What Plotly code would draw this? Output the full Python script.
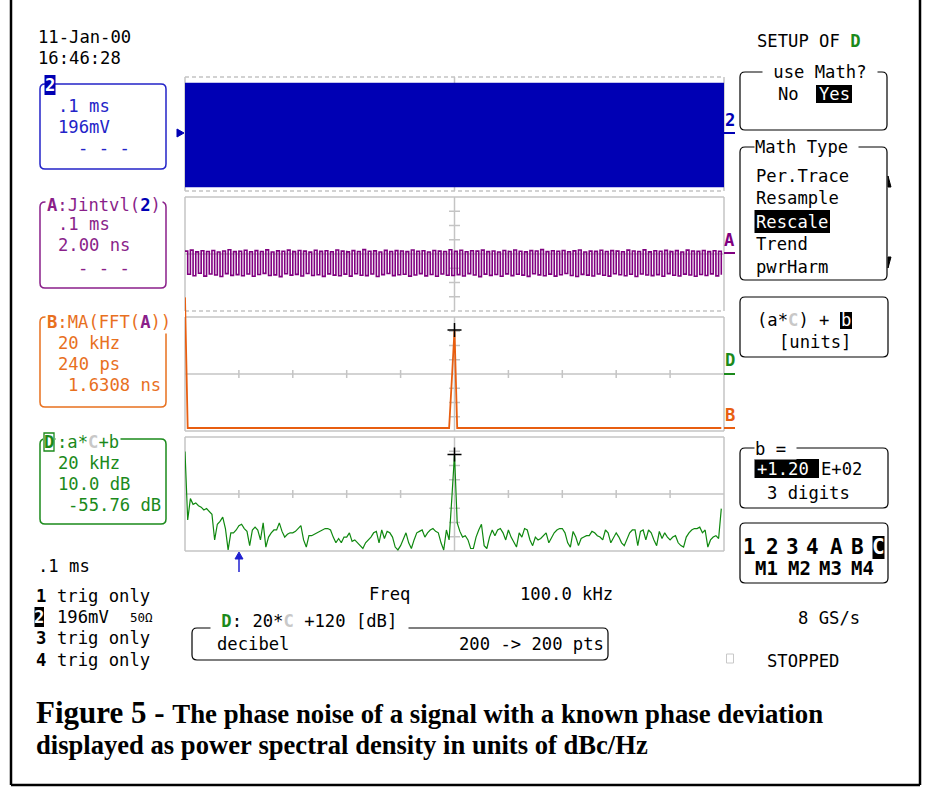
import re
import plotly.graph_objects as go

W, H = 925, 790
MONO = "DejaVu Sans Mono"
SERIF = "Liberation Serif"
FS = 17.2

# ------------------------------------------------------------------ data
# Channel 2 (196 mV/div) : envelope of the dense carrier, 0.1 ms/div
ch2_time_ms = [0.0, 1.0]
ch2_max_mv = [701, 701]
ch2_min_mv = [-729, -729]

# Trace A : Jintvl(2) jitter track (ns), 2 samples per modulation cycle
a_time_ms = [k * 0.005 for k in range(200)]
a_jitter_ns = [
    0.40, -2.85, 0.55, -3.05, 0.30, -2.70, 0.45, -3.10, 0.35, -2.80, 0.50, -2.95, 0.28, -3.15, 0.42, -2.75, 0.60, -3.00, 0.33, -2.90,
    0.38, -3.05, 0.52, -2.80, 0.31, -3.12, 0.47, -2.88, 0.36, -2.72, 0.58, -3.02, 0.29, -2.93, 0.44, -3.18, 0.39, -2.78, 0.55, -2.97,
    0.34, -2.86, 0.49, -3.08, 0.41, -2.74, 0.27, -3.01, 0.53, -2.91, 0.37, -3.14, 0.46, -2.79, 0.32, -2.96, 0.57, -3.06, 0.40, -2.83,
    0.30, -3.10, 0.48, -2.77, 0.35, -2.99, 0.62, -3.04, 0.39, -2.81, 0.44, -3.16, 0.28, -2.89, 0.51, -2.73, 0.36, -3.03, 0.47, -2.92,
    0.42, -2.84, 0.33, -3.11, 0.56, -2.95, 0.38, -2.76, 0.45, -3.07, 0.29, -2.87, 0.50, -3.13, 0.41, -2.80, 0.35, -2.98, 0.59, -3.02,
    0.37, -2.90, 0.52, -3.09, 0.31, -2.75, 0.46, -2.94, 0.40, -3.17, 0.55, -2.82, 0.33, -3.00, 0.43, -2.88, 0.28, -3.12, 0.49, -2.79,
    0.36, -3.04, 0.57, -2.85, 0.39, -2.97, 0.30, -3.14, 0.48, -2.78, 0.42, -2.93, 0.61, -3.06, 0.34, -2.83, 0.45, -3.10, 0.38, -2.91,
    0.50, -2.74, 0.32, -3.02, 0.44, -3.15, 0.56, -2.86, 0.29, -2.96, 0.41, -3.08, 0.37, -2.81, 0.53, -2.99, 0.35, -3.11, 0.47, -2.77,
    0.40, -2.92, 0.31, -3.05, 0.54, -2.84, 0.43, -3.16, 0.36, -2.80, 0.58, -2.95, 0.30, -3.03, 0.46, -2.89, 0.39, -3.12, 0.51, -2.76,
    0.34, -2.98, 0.47, -3.09, 0.28, -2.82, 0.55, -2.94, 0.42, -3.13, 0.37, -2.87, 0.49, -3.01, 0.33, -2.79, 0.45, -3.07, 0.38, -2.90,
]

# FFT bins, 1 kHz per point (200 -> 200 pts, centre 100 kHz)
freq_khz = list(range(200))

# Trace B : MA(FFT(A)) in ps
b_psd_ps = [
    2200, 0, 0, 0, 0, 0, 0, 0, 0, 0, 0, 0, 0, 0, 0, 0, 0, 0, 0, 0,
    0, 0, 0, 0, 0, 0, 0, 0, 0, 0, 0, 0, 0, 0, 0, 0, 0, 0, 0, 0,
    0, 0, 0, 0, 0, 0, 0, 0, 0, 0, 0, 0, 0, 0, 0, 0, 0, 0, 0, 0,
    0, 0, 0, 0, 0, 0, 0, 0, 0, 0, 0, 0, 0, 0, 0, 0, 0, 0, 0, 0,
    0, 0, 0, 0, 0, 0, 0, 0, 0, 0, 0, 0, 0, 0, 0, 0, 0, 0, 0, 808,
    1650, 0, 0, 0, 0, 0, 0, 0, 0, 0, 0, 0, 0, 0, 0, 0, 0, 0, 0, 0,
    0, 0, 0, 0, 0, 0, 0, 0, 0, 0, 0, 0, 0, 0, 0, 0, 0, 0, 0, 0,
    0, 0, 0, 0, 0, 0, 0, 0, 0, 0, 0, 0, 0, 0, 0, 0, 0, 0, 0, 0,
    0, 0, 0, 0, 0, 0, 0, 0, 0, 0, 0, 0, 0, 0, 0, 0, 0, 0, 0, 0,
    0, 0, 0, 0, 0, 0, 0, 0, 0, 0, 0, 0, 0, 0, 0, 0, 0, 0, 0, 0,
]

# Trace D : 20*C + 120 [dB]  (phase-noise PSD)
d_db = [
    -26, -74, -59, -63, -62, -64, -65, -67, -66, -68,
    -70, -88, -77, -75, -72, -80, -95, -83, -83, -81,
    -78, -77, -80, -82, -92, -81, -79, -81, -88, -76,
    -93, -86, -83, -81, -81, -76, -82, -86, -84, -83,
    -83, -82, -80, -78, -88, -93, -85, -85, -84, -83,
    -82, -81, -80, -80, -81, -86, -90, -87, -90, -86,
    -86, -83, -89, -88, -90, -92, -94, -90, -88, -86,
    -83, -82, -90, -81, -87, -82, -83, -86, -93, -95,
    -92, -87, -83, -90, -94, -88, -83, -82, -81, -86,
    -83, -81, -80, -82, -83, -90, -95, -81, -88, -59,
    -28, -76, -82, -86, -85, -88, -94, -94, -86, -81,
    -77, -92, -94, -86, -81, -85, -81, -80, -83, -88,
    -81, -86, -90, -93, -83, -86, -80, -81, -88, -92,
    -86, -88, -87, -85, -83, -90, -86, -83, -81, -80,
    -80, -83, -90, -93, -82, -86, -92, -87, -86, -85,
    -85, -82, -83, -85, -86, -88, -81, -83, -90, -86,
    -83, -86, -90, -92, -88, -83, -81, -81, -92, -82,
    -81, -88, -81, -83, -88, -92, -82, -87, -83, -86,
    -88, -86, -85, -90, -92, -93, -86, -83, -81, -80,
    -80, -79, -83, -81, -93, -88, -86, -85, -87, -66,
]

d_offset_db, d_scale_db = -55.76, 10.0
b_scale_ps = 240
ch2_scale_mv = 196
a_scale_ns = 2.0
peak_bin = 100

# ------------------------------------------------------------------ colours
BLUE_T = "#2323c8"
BLUE_F = "#0000b4"
PURPLE = "#8a1f8a"
PURPLE_TR = "#800080"
ORANGE = "#e8701e"
ORANGE_TR = "#e85e10"
GREEN = "#1b8a1b"
GREEN_TR = "#0f880f"
GRID = "#c4c4c4"
CGREY = "#c8c8c8"

shapes, anns = [], []


def X(px):
    return px / W


def Y(py):
    return 1 - py / H


def nb(s):
    parts = re.split(r"(<[^>]*>)", s)
    return "".join(p if p.startswith("<") else p.replace(" ", "\u00a0") for p in parts)


def T(px, py, s, color="#000000", size=FS, bold=False, anchor="left", bg=None, family=MONO, pad=0):
    if bold:
        s = "<b>" + s + "</b>"
    anns.append(dict(xref="paper", yref="paper", x=X(px), y=Y(py), text=nb(s), showarrow=False,
                     xanchor=anchor, yanchor="middle", borderpad=pad,
                     font=dict(family=family, size=size, color=color),
                     bgcolor=bg if bg else "rgba(0,0,0,0)"))


def L(x0, y0, x1, y1, color=GRID, width=1.5, dash=None, layer="below"):
    d = dict(type="line", xref="paper", yref="paper", x0=X(x0), y0=Y(y0), x1=X(x1), y1=Y(y1),
             line=dict(color=color, width=width), layer=layer)
    if dash:
        d["line"]["dash"] = dash
    shapes.append(d)


def R(x0, y0, x1, y1, fill=None, color=None, width=1.2):
    shapes.append(dict(type="rect", xref="paper", yref="paper", x0=X(x0), y0=Y(y0), x1=X(x1), y1=Y(y1),
                       fillcolor=fill if fill else "rgba(0,0,0,0)",
                       line=dict(color=color if color else "rgba(0,0,0,0)", width=width if color else 0),
                       layer="above"))


def RR(x0, y0, x1, y1, color, r=5, width=1.5):
    def p(x, y):
        return f"{X(x):.5f},{Y(y):.5f}"
    path = (f"M {p(x0 + r, y0)} L {p(x1 - r, y0)} Q {p(x1, y0)} {p(x1, y0 + r)} "
            f"L {p(x1, y1 - r)} Q {p(x1, y1)} {p(x1 - r, y1)} L {p(x0 + r, y1)} "
            f"Q {p(x0, y1)} {p(x0, y1 - r)} L {p(x0, y0 + r)} Q {p(x0, y0)} {p(x0 + r, y0)} Z")
    shapes.append(dict(type="path", xref="paper", yref="paper", path=path,
                       line=dict(color=color, width=width), layer="above"))


def TRI(pts, color):
    path = "M " + " L ".join(f"{X(a):.5f},{Y(b):.5f}" for a, b in pts) + " Z"
    shapes.append(dict(type="path", xref="paper", yref="paper", path=path, fillcolor=color,
                       line=dict(color=color, width=1), layer="above"))


# ------------------------------------------------------------------ grid panels
XL, XR = 185, 724
XC = (XL + XR) / 2
panels = [(77, 191), (197, 311), (317, 431), (437, 551)]
DIVX = (XR - XL) / 10
DIVY = 114 / 8
for idx, (top, bot) in enumerate(panels):
    mid = (top + bot) / 2
    L(XL, top, XR, top, dash="4px,3px" if idx == 0 else None)
    L(XL, bot, XR, bot, dash="4px,3px" if idx in (0, 1) else None)
    L(XL, top, XL, bot)
    L(XR, top, XR, bot)
    L(XC, top, XC, bot)
    L(XL, mid, XR, mid)
    for m in (-3, -2, -1, 1, 2, 3):
        L(XC - 5.5, mid + m * DIVY, XC + 5.5, mid + m * DIVY)
    for k in range(1, 10):
        if k != 5:
            L(XL + k * DIVX, mid - 4, XL + k * DIVX, mid + 4)

# ------------------------------------------------------------------ outer frame
L(11, 0, 11, 785, color="#000000", width=2.5, layer="above")
L(920, 0, 920, 785, color="#000000", width=2.5, layer="above")
L(11, 785, 920, 785, color="#000000", width=2.5, layer="above")

# ------------------------------------------------------------------ left column
T(37, 37, "11-Jan-00")
T(37, 58, "16:46:28")

# channel 2 box
RR(40, 84, 166, 169, BLUE_T)
R(44.5, 75, 55.5, 95, fill=BLUE_F)
T(50, 85, "2", color="#ffffff", bold=True, anchor="center")
T(57, 106, ".1 ms", color=BLUE_T)
T(57, 127, "196mV", color=BLUE_T)
T(77, 148, "- - -", color=BLUE_T)

# A box
RR(40, 202, 166, 288, PURPLE)
T(45, 205, f"<b>A</b>:Jintvl(<span style='color:{BLUE_F}'><b>2</b></span>)", color=PURPLE, bg="#ffffff", pad=1)
T(57, 224, ".1 ms", color=PURPLE)
T(57, 245, "2.00 ns", color=PURPLE)
T(77, 268, "- - -", color=PURPLE)

# B box
RR(40, 317, 166, 407, ORANGE)
T(45, 322, f"<b>B</b>:MA(FFT(<span style='color:{PURPLE}'><b>A</b></span>))", color=ORANGE, bg="#ffffff", pad=1)
T(57, 343, "20 kHz", color=ORANGE)
T(57, 364, "240 ps", color=ORANGE)
T(67, 385, "1.6308 ns", color=ORANGE)

# D box
RR(40, 439, 166, 524, GREEN)
R(43, 433, 55, 451, fill="#ffffff")
R(44, 433, 54, 451, color=GREEN, width=1.3)
T(49, 442, "D", color=GREEN, bold=True, anchor="center")
T(55, 442, f":a*<span style='color:{CGREY}'><b>C</b></span>+b", color=GREEN, bg="#ffffff", pad=1)
T(57, 463, "20 kHz", color=GREEN)
T(57, 484, "10.0 dB", color=GREEN)
T(67, 505, "-55.76 dB", color=GREEN)

T(37, 566, ".1 ms")
T(35, 596, "1", bold=True)
T(56, 596, "trig only")
R(34.5, 607, 44, 627, fill="#000000")
T(39.3, 617, "2", color="#ffffff", bold=True, anchor="center")
T(56, 617, "196mV")
T(129, 617, "50Ω", size=12.5)
T(35, 638, "3", bold=True)
T(56, 638, "trig only")
T(35, 660, "4", bold=True)
T(56, 660, "trig only")

# ------------------------------------------------------------------ right column
T(756, 41, f"SETUP OF <span style='color:{GREEN}'><b>D</b></span>")

RR(740, 72, 887, 130, "#000000", width=1.2)
T(762, 72, " use Math? ", bg="#ffffff")
T(777, 94, "No")
R(816, 85, 852, 103, fill="#000000")
T(818, 94, "Yes", color="#ffffff")

RR(740, 147, 887, 280, "#000000", width=1.2)
T(754, 147, "Math Type ", bg="#ffffff")
T(755, 176, "Per.Trace")
T(755, 198, "Resample")
R(754.5, 210, 830, 233, fill="#000000")
T(755, 222, "Rescale", color="#ffffff")
T(755, 244, "Trend")
T(755, 267, "pwrHarm")
TRI([(888, 187), (888, 176), (891, 187)], "#000000")
TRI([(888, 257), (888, 268), (891, 257)], "#000000")

RR(740, 297, 888, 357, "#000000", width=1.2)
T(756, 320, f"(a*<span style='color:{CGREY}'><b>C</b></span>) +")
R(840, 312, 852, 329, fill="#000000")
T(846, 320, "b", color="#ffffff", anchor="center")
T(778, 342, "[units]")

RR(740, 448, 888, 508, "#000000", width=1.2)
T(754, 449, "b = ", bg="#ffffff")
R(754.5, 459, 819, 478, fill="#000000")
T(756, 469, "+1.20", color="#ffffff")
T(820, 469, "E+02")
T(766, 493, "3 digits")

RR(740, 523, 888, 583, "#000000", width=1.2)
for cx, ch in zip([749, 772, 792, 812, 836, 857], ["1", "2", "3", "4", "A", "B"]):
    T(cx, 547, ch, bold=True, size=21, anchor="center")
R(872.5, 536, 884.5, 559, fill="#000000")
T(878.5, 547, "C", color="#ffffff", bold=True, size=21, anchor="center")
for cx, ch in zip([766, 799, 830, 862], ["M1", "M2", "M3", "M4"]):
    T(cx, 568, ch, bold=True, size=19, anchor="center")

T(797, 618, "8 GS/s")
R(726.5, 654, 733.5, 663, color=CGREY, width=1)
T(766, 661, "STOPPED")

# trace markers on the right edge of the grid
for ch, col, ty, uy in [("2", BLUE_F, 120, 133), ("A", PURPLE_TR, 240, 253),
                        ("D", GREEN, 360, 374), ("B", ORANGE_TR, 415, 428)]:
    T(729.5, ty, ch, color=col, bold=True, anchor="center")
    L(724, uy, 735, uy, color=col, width=2, layer="above")

# ch2 ground marker and cursor arrow
TRI([(177, 129), (184, 133), (177, 137)], BLUE_F)
L(239, 556, 239, 572, color="#2020d0", width=1.5, layer="above")
TRI([(235, 559), (239, 552), (243, 559)], "#2020d0")

# ------------------------------------------------------------------ bottom info
T(368, 594, "Freq")
T(519, 594, "100.0 kHz")
RR(192, 628, 608, 660, "#000000", width=1.2)
T(210, 621, f" <span style='color:{GREEN}'><b>D</b></span>: 20*<span style='color:{CGREY}'><b>C</b></span> +120 [dB] ",
  bg="#ffffff")
T(216, 644, "decibel")
T(605, 644, "200 -> 200 pts", anchor="right")

# caption
T(35, 712, "<b><span style='font-size:31px'>Figure 5 - </span>The phase noise of a signal with a known phase deviation</b>",
  family=SERIF, size=26.8)
T(35, 745, "<b>displayed as power spectral density in units of dBc/Hz</b>", family=SERIF, size=26.6)

# ------------------------------------------------------------------ traces
fig = go.Figure()
fig.add_trace(go.Scatter(x=ch2_time_ms, y=ch2_max_mv, mode="lines", line=dict(color=BLUE_F, width=0.5),
                         xaxis="x", yaxis="y", hoverinfo="skip"))
fig.add_trace(go.Scatter(x=ch2_time_ms, y=ch2_min_mv, mode="lines", line=dict(color=BLUE_F, width=0.5),
                         fill="tonexty", fillcolor=BLUE_F, xaxis="x", yaxis="y", hoverinfo="skip"))
fig.add_trace(go.Scatter(x=a_time_ms, y=a_jitter_ns, mode="lines", line=dict(color=PURPLE_TR, width=1.6, shape="hv"),
                         xaxis="x2", yaxis="y2"))
fig.add_trace(go.Scatter(x=freq_khz, y=b_psd_ps, mode="lines", line=dict(color=ORANGE_TR, width=1.8),
                         xaxis="x3", yaxis="y3"))
fig.add_trace(go.Scatter(x=freq_khz, y=d_db, mode="lines", line=dict(color=GREEN_TR, width=1.2),
                         xaxis="x4", yaxis="y4"))
fig.add_trace(go.Scatter(x=[freq_khz[peak_bin]], y=[b_psd_ps[peak_bin]], mode="markers",
                         marker=dict(symbol="cross-thin", size=10, line=dict(color="#000000", width=1.5)),
                         xaxis="x3", yaxis="y3"))
fig.add_trace(go.Scatter(x=[freq_khz[peak_bin]], y=[d_db[peak_bin]], mode="markers",
                         marker=dict(symbol="cross-thin", size=10, line=dict(color="#000000", width=1.5)),
                         xaxis="x4", yaxis="y4"))

xdom = [XL / W, XR / W]
ax = dict(visible=False, fixedrange=True, showgrid=False, zeroline=False)
b_lo = -(431 - 428) / DIVY * b_scale_ps
b_hi = (428 - 290) / DIVY * b_scale_ps

fig.update_layout(
    width=W, height=H, margin=dict(l=0, r=0, t=0, b=0),
    paper_bgcolor="#ffffff", plot_bgcolor="rgba(0,0,0,0)", showlegend=False,
    xaxis=dict(ax, domain=xdom, range=[0, 1]),
    yaxis=dict(ax, domain=[1 - 191 / H, 1 - 77 / H], range=[-4 * ch2_scale_mv, 4 * ch2_scale_mv]),
    xaxis2=dict(ax, domain=xdom, range=[0, 1]),
    yaxis2=dict(ax, domain=[1 - 311 / H, 1 - 197 / H], range=[-4 * a_scale_ns, 4 * a_scale_ns]),
    xaxis3=dict(ax, domain=xdom, range=[0, 200]),
    yaxis3=dict(ax, domain=[1 - 431 / H, 1 - 290 / H], range=[b_lo, b_hi]),
    xaxis4=dict(ax, domain=xdom, range=[0, 200]),
    yaxis4=dict(ax, domain=[1 - 551 / H, 1 - 437 / H],
                range=[d_offset_db - 4 * d_scale_db, d_offset_db + 4 * d_scale_db]),
    shapes=shapes, annotations=anns,
)

fig.write_html("out.html")
